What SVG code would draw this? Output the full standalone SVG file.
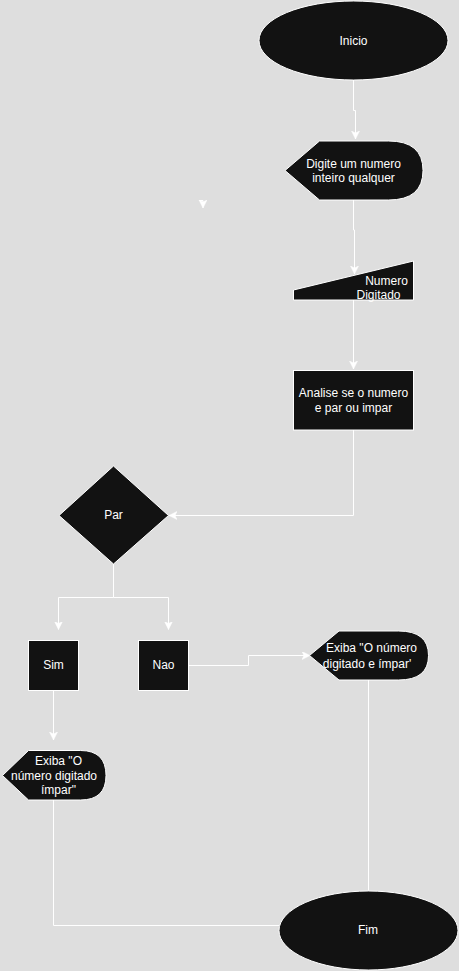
<svg xmlns="http://www.w3.org/2000/svg" width="459" height="971" viewBox="0 0 459 971">
<style>
.shape{fill:#121212;stroke:#ffffff;stroke-width:1}
.lbl{font-family:"Liberation Sans",Arial,sans-serif;font-size:12px;fill:#ffffff;text-anchor:middle}
.edge{fill:none;stroke:#ffffff;stroke-width:1}
</style>
<defs>
<marker id="arr" markerUnits="userSpaceOnUse" markerWidth="10" markerHeight="10" refX="8" refY="4" orient="auto">
<path d="M0,0 L8,4 L0,8 L2,4 Z" fill="#ffffff" stroke="#ffffff" stroke-width="0.5"/>
</marker>
</defs>
<rect x="0" y="0" width="459" height="971" fill="#dedede"/>
<g id="connectors">
<path class="edge" d="M353.5,80 V110.5 H355.5 V139" marker-end="url(#arr)"/>
<path class="edge" d="M353.5,200 V230 H354.5 V274" marker-end="url(#arr)"/>
<path class="edge" d="M353.5,300 V369" marker-end="url(#arr)"/>
<path class="edge" d="M353.5,430 V515.5 H169" marker-end="url(#arr)"/>
<path class="edge" d="M113.5,564 V597.5 H58.5 V629.5" marker-end="url(#arr)"/>
<path class="edge" d="M113.5,597.5 H168.5 V629.5" marker-end="url(#arr)"/>
<path class="edge" d="M188.5,665.5 H248.5 V655.5 H310" marker-end="url(#arr)"/>
<path class="edge" d="M53.5,690.5 V740" marker-end="url(#arr)"/>
<path class="edge" d="M53.5,800 V925.5 H279"/>
<path class="edge" d="M368.5,680 V890.5"/>
<path class="edge" d="M199,200.5 H203 V208" marker-end="url(#arr)"/>
</g>
<g id="inicio">
<ellipse class="shape" cx="353.5" cy="40.5" rx="94.5" ry="39.5"/>
<text class="lbl" x="353.5" y="44.5">Inicio</text>
</g>
<g id="digite">
<path class="shape" d="M285,170.5 L319.5,141 L388.5,141 Q423,141 423,170.5 Q423,200 388.5,200 L319.5,200 Z"/>
<text class="lbl" x="353.5" y="167.5">Digite um numero</text>
<text class="lbl" x="353.5" y="182">inteiro qualquer</text>
</g>
<g id="numero">
<path class="shape" d="M293.5,290 L413.5,261 L413.5,300 L293.5,300 Z"/>
<text class="lbl" x="386.5" y="284.5">Numero</text>
<text class="lbl" x="378.5" y="298.5">Digitado</text>
</g>
<g id="analise">
<rect class="shape" x="293.5" y="370.5" width="120" height="59.5"/>
<text class="lbl" x="353.5" y="397">Analise se o numero</text>
<text class="lbl" x="353.5" y="411.5">e par ou impar</text>
</g>
<g id="par">
<path class="shape" d="M113.5,466 L168.5,515.5 L113.5,564 L59,515.5 Z"/>
<text class="lbl" x="113.5" y="518.5">Par</text>
</g>
<g id="sim">
<rect class="shape" x="28.5" y="640.5" width="50" height="50"/>
<text class="lbl" x="53.5" y="668.5">Sim</text>
</g>
<g id="nao">
<rect class="shape" x="138.5" y="640.5" width="50" height="50"/>
<text class="lbl" x="163.5" y="668.5">Nao</text>
</g>
<g id="exiba-impar">
<path class="shape" d="M309.5,655.5 L339,631 L398.5,631 Q428.5,631 428.5,655.5 Q428.5,680 398.5,680 L339,680 Z"/>
<text class="lbl" x="371.5" y="652">Exiba "O número</text>
<text class="lbl" x="367" y="667.5">digitado e ímpar'</text>
</g>
<g id="exiba-sim">
<path class="shape" d="M2.5,775.5 L28.5,750.5 L80.5,750.5 Q106,750.5 106,775.5 Q106,800 80.5,800 L28.5,800 Z"/>
<text class="lbl" x="58.5" y="765">Exiba "O</text>
<text class="lbl" x="54" y="779.5">número digitado</text>
<text class="lbl" x="58.5" y="793.5">ímpar"</text>
</g>
<g id="fim">
<ellipse class="shape" cx="368.5" cy="930.5" rx="89.5" ry="39.5"/>
<text class="lbl" x="368" y="933.5">Fim</text>
</g>
</svg>
